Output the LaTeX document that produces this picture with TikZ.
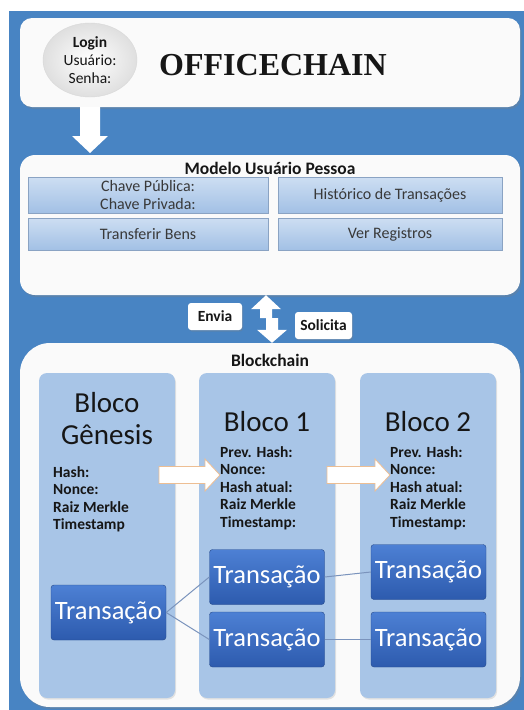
\documentclass[tikz,border=0pt]{standalone}
\usepackage{fontspec}
\setmainfont{Carlito}
\newfontfamily\logofont{Liberation Serif}
\usetikzlibrary{arrows.meta, positioning, shapes.geometric, calc, shadows}
\definecolor{cpanel}{HTML}{4884C3}
\definecolor{cwhite}{HTML}{FAFAFA}
\definecolor{ccelllt}{HTML}{CDDEF2}
\definecolor{ccelldk}{HTML}{A2C0E5}
\definecolor{ccol}{HTML}{A8C5E7}
\definecolor{ctxlt}{HTML}{4D80D4}
\definecolor{ctxdk}{HTML}{2D5BAE}
\definecolor{ctext}{HTML}{161616}
\definecolor{cline}{HTML}{7A93BC}
\definecolor{corange}{HTML}{EDBE93}
\tikzset{
  panel/.style={fill=cwhite, rounded corners=#1, inner sep=0pt, drop shadow={opacity=0.3, shadow xshift=1.5pt, shadow yshift=-2pt}},
  panel/.default=12pt,
  cell/.style={top color=ccelllt, bottom color=ccelldk, draw=ccelldk!85!black, line width=0.4pt, inner sep=0pt, align=center, text=ctext!85, font=\fontsize{16}{17.5}\selectfont},
  column/.style={fill=ccol, rounded corners=8pt, minimum width=136pt, minimum height=325pt, inner sep=0pt, drop shadow={opacity=0.2, shadow xshift=1pt, shadow yshift=-1.5pt}},
  tx/.style={top color=ctxlt, bottom color=ctxdk, draw=ctxdk!80!black, rounded corners=3pt, minimum width=115pt, minimum height=55pt, inner sep=0pt, text=white, font=\fontsize{26.5}{30}\selectfont},
  field/.style={anchor=north west, align=left, inner sep=0pt, text=ctext, font=\bfseries\fontsize{15.5}{17.5}\selectfont},
  blocktitle/.style={inner sep=0pt, align=center, text=ctext, font=\fontsize{29}{32}\selectfont},
  heading/.style={anchor=base, inner sep=0pt, text=ctext, font=\bfseries\fontsize{17.5}{20}\selectfont},
  tag/.style={fill=white, rounded corners=3pt, inner sep=0pt, minimum height=27pt, text=ctext, font=\bfseries\fontsize{15.5}{18}\selectfont, drop shadow={opacity=0.3, shadow xshift=1pt, shadow yshift=-1.5pt}},
  link/.style={draw=cline, line width=1pt},
  fat/.style n args={3}{fill=white, to path={
    ($(\tikztostart)!#1!90:(\tikztotarget)$)
    -- ($(\tikztotarget)!#3!(\tikztostart)!#1!-90:(\tikztostart)$)
    -- ($(\tikztotarget)!#3!(\tikztostart)!#2!-90:(\tikztostart)$)
    -- (\tikztotarget)
    -- ($(\tikztotarget)!#3!(\tikztostart)!#2!90:(\tikztostart)$)
    -- ($(\tikztotarget)!#3!(\tikztostart)!#1!90:(\tikztostart)$)
    -- ($(\tikztostart)!#1!-90:(\tikztotarget)$) -- cycle}},
}
\begin{document}
\begin{tikzpicture}[x=1pt, y=-1pt]
  \useasboundingbox (0,0) rectangle (524,710);
  \fill[cpanel] (9,11) rectangle (524,710);
  % top bar with login
  \node[panel, minimum width=500pt, minimum height=89pt] (top) at (270,62.5) {};
  \node[ellipse, shade, inner color=white, outer color=gray!25, draw=gray!30, minimum width=94pt, minimum height=74pt, inner sep=0pt, align=center, text=ctext, font=\fontsize{15.5}{18}\selectfont] (login) at (90,60) {\textbf{Login}\\Usuário:\\Senha:};
  \node[anchor=base, inner sep=0pt, text=ctext, font=\logofont\bfseries\fontsize{32}{36}\selectfont] (logo) at (273,75) {OFFICECHAIN};
  \draw[fat={10pt}{18pt}{17pt}, draw=none] (top.south -| login) to (130,153 -| login);
  % user model
  \node[panel=15pt, minimum width=500pt, minimum height=140pt] (modelo) at (270,225) {};
  \node[heading] (modelotit) at (270,174) {Modelo Usuário Pessoa};
  \node[cell, minimum width=240pt, minimum height=36pt] (chaves) at (148,195) {Chave Pública:\\Chave Privada:};
  \node[cell, minimum width=224pt, minimum height=36pt] (hist) at (390,195) {Histórico de Transações};
  \node[cell, minimum width=240pt, minimum height=32pt] (transf) at (148,234) {Transferir Bens};
  \node[cell, minimum width=224pt, minimum height=32pt] (ver) at (390,234) {Ver Registros};
  % send / request
  \node[tag, minimum width=54pt] (envia) at (215,316.5) {Envia};
  \node[tag, minimum width=57pt] (solicita) at (323.5,325.5) {Solicita};
  \coordinate (upfoot) at (266,318);
  \coordinate (dnfoot) at (272,318);
  \draw[fat={6pt}{15pt}{14pt}, draw=none] (upfoot) to (modelo.south -| upfoot);
  % blockchain
  \node[panel=30pt, minimum width=500pt, minimum height=364pt] (chain) at (270,525) {};
  \draw[fat={6pt}{15pt}{13pt}, draw=none] (dnfoot) to (chain.north -| dnfoot);
  \node[heading] (chaintit) at (270,366) {Blockchain};
  \foreach \n/\x in {gen/107, b1/267, b2/428}
    \node[column] (\n) at (\x,535.5) {};
  \node[blocktitle, anchor=north] (gentit) at (107,392) {Bloco\\Gênesis};
  \node[blocktitle, anchor=base] (b1tit) at (267,431) {Bloco 1};
  \node[blocktitle, anchor=base] (b2tit) at (428,431) {Bloco 2};
  \node[field] (genf) at (53,466) {Hash:\\Nonce:\\Raiz Merkle\\Timestamp};
  \node[field] (b1f) at (220,446) {Prev. Hash:\\Nonce:\\Hash atual:\\Raiz Merkle\\Timestamp:};
  \node[field] (b2f) at (390,446) {Prev. Hash:\\Nonce:\\Hash atual:\\Raiz Merkle\\Timestamp:};
  \coordinate (g2b1) at (159,475);
  \coordinate (b12b2) at (327,475);
  \draw[fat={8.5pt}{16pt}{15pt}, draw=corange, line width=0.8pt] (g2b1) to (b1f.west |- g2b1);
  \draw[fat={8.5pt}{16pt}{15pt}, draw=corange, line width=0.8pt] (b12b2) to (b2f.west |- b12b2);
  % transactions
  \node[tx] (tg) at (108.5,612.5) {Transação};
  \node[tx] (t1a) at (267,577) {Transação};
  \node[tx] (t1b) at (267,639.5) {Transação};
  \node[tx] (t2a) at (428.5,572) {Transação};
  \node[tx] (t2b) at (428.5,639.5) {Transação};
  \draw[link] (tg.east) -- (t1a.west);
  \draw[link] (tg.east) -- (t1b.west);
  \draw[link] (t1a.east) -- (t2a.west);
  \draw[link] (t1b.east) -- (t2b.west);
\end{tikzpicture}
\end{document}
